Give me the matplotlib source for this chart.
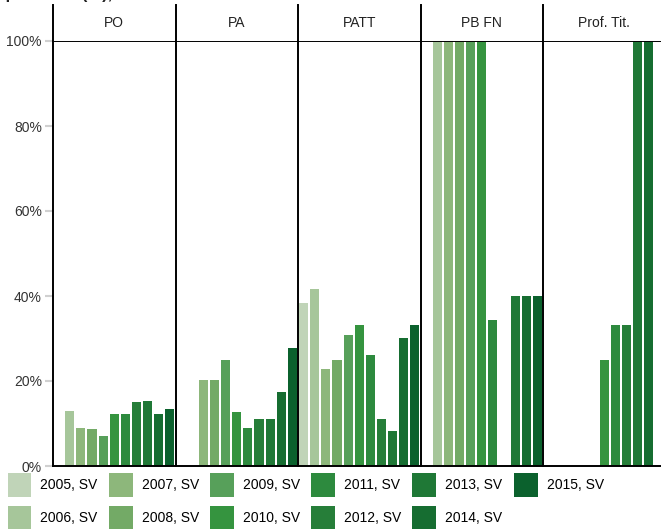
import numpy as np
import matplotlib
matplotlib.use("Agg")
import matplotlib.pyplot as plt
from matplotlib.patches import Patch

plt.rcParams['font.family'] = ['Liberation Sans', 'DejaVu Sans']

years = [2005, 2006, 2007, 2008, 2009, 2010, 2011, 2012, 2013, 2014, 2015]
panels = ["PO", "PA", "PATT", "PB FN", "Prof. Tit."]
nan = np.nan

# percent values per panel, one per year (nan = no bar)
po = [nan, 12.9, 8.9, 8.7, 7.1, 12.2, 12.2, 15.1, 15.3, 12.2, 13.4]
pa = [nan, nan, 20.2, 20.2, 24.9, 12.7, 8.9, 11.0, 11.0, 17.4, 27.8]
patt = [38.4, 41.6, 22.8, 24.9, 30.8, 33.2, 26.1, 11.1, 8.2, 30.1, 33.2]
pbfn = [nan, 100, 100, 100, 100, 100, 34.3, nan, 40, 40, 40]
proftit = [nan, nan, nan, nan, nan, 24.9, 33.2, 33.2, 100, 100, nan]
values = [po, pa, patt, pbfn, proftit]

colors = ['#c0d4b8', '#a6c69a', '#8db77b', '#73aa66', '#57a05a', '#35943f',
          '#2d8a3e', '#267e39', '#1f7836', '#166d31', '#0b612d']

W, H = 661, 529
fig = plt.figure(figsize=(W / 100, H / 100), dpi=100)

left = 53
pw = 122.5
y0 = 466   # 0% line (px from top)
y1 = 41    # 100% line
ystrip = 5

for i, name in enumerate(panels):
    x = left + i * pw
    ax = fig.add_axes([x / W, (H - y0) / H, pw / W, (y0 - y1) / H])
    vals = np.array(values[i], dtype=float)
    ax.bar(np.arange(len(years)), vals / 100, width=0.82, color=colors, linewidth=0)
    ax.set_xlim(-0.5, 10.5)
    ax.set_ylim(0, 1.0)
    ax.set_xticks([])
    for s in ['left', 'top', 'bottom']:
        ax.spines[s].set_color('black')
        ax.spines[s].set_linewidth(1.4)
    ax.spines['right'].set_visible(False)
    if i == 0:
        ax.set_yticks([0, 0.2, 0.4, 0.6, 0.8, 1.0])
        ax.set_yticklabels(['0%', '20%', '40%', '60%', '80%', '100%'])
        ax.tick_params(axis='y', length=6, width=1.5, color='#d0d0d0',
                       labelsize=10, labelcolor='#333333', pad=2)
    else:
        ax.set_yticks([])

    # strip with panel label
    sx = fig.add_axes([x / W, (H - y1) / H, pw / W, (y1 - ystrip) / H])
    sx.set_xticks([])
    sx.set_yticks([])
    for s in ['top', 'right', 'bottom']:
        sx.spines[s].set_visible(False)
    sx.spines['left'].set_color('black')
    sx.spines['left'].set_linewidth(1.4)
    sx.text(0.5, 0.5, name, ha='center', va='center', fontsize=10,
            color='#222222', transform=sx.transAxes)

# title, mostly above the top edge as in the reference
fig.text(0.0, 1 + 0.5 / H, "qualifiche (%),", fontsize=12, fontweight='bold',
         va='baseline', ha='left', color='#222222')

handles = [Patch(facecolor=c, edgecolor='none') for c in colors]
labels = [f"{y}, SV" for y in years]
fig.legend(handles, labels, ncol=6, loc='upper left',
           bbox_to_anchor=(7.5 / W, (H - 473) / H), frameon=False,
           fontsize=10, handlelength=1.72, handleheight=2.28,
           handletextpad=0.65, columnspacing=0.8, labelspacing=0.65,
           borderpad=0, borderaxespad=0)

fig.savefig("out.png", dpi=100)
